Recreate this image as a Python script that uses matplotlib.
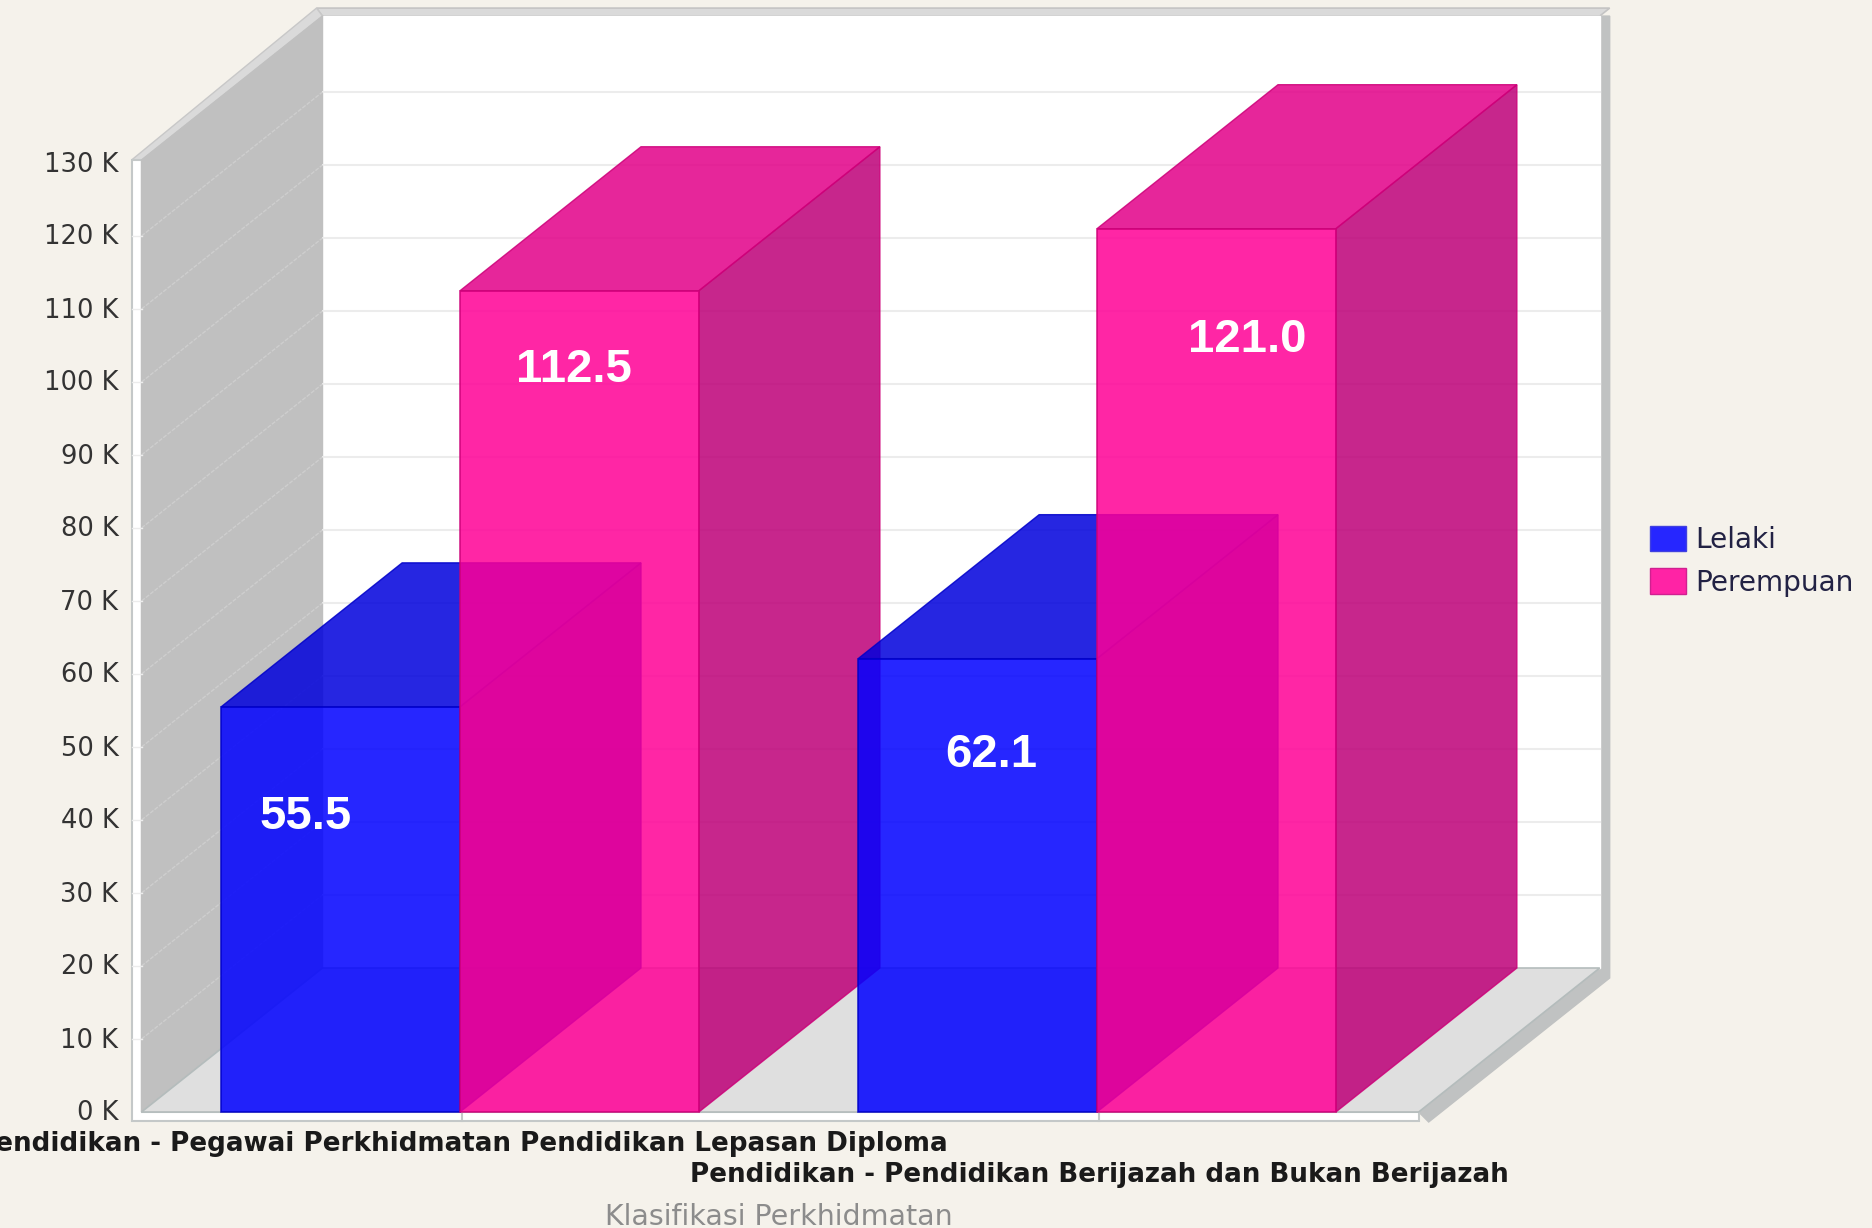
import matplotlib
matplotlib.use('Agg')
import matplotlib.pyplot as plt
from matplotlib.patches import Patch

W, H = 1872, 1228
BG = '#f5f2eb'

categories = ['Pendidikan - Pegawai Perkhidmatan Pendidikan Lepasan Diploma',
              'Pendidikan - Pendidikan Berijazah dan Bukan Berijazah']
lelaki = [55.5, 62.1]
perempuan = [112.5, 121.0]
yticks = [0, 10, 20, 30, 40, 50, 60, 70, 80, 90, 100, 110, 120, 130]
ylabels = [f'{v} K' for v in yticks]

# pixel scale of the front plane
PX_CAT = 637.0
PX_K = 7.30
X0, Y0 = 460.0, 1112.0
def dx(p): return p / PX_CAT
def dy(p): return p / PX_K

depth_x, depth_y = dx(181), dy(144)
bar_w = 0.375
x_lo, x_hi = -0.5, 1.505
y_top = 130.4

fig = plt.figure(figsize=(W / 100, H / 100), dpi=100, facecolor=BG)
ax = fig.add_axes([0, 0, 1, 1])
ax.set_xlim(-X0 / PX_CAT, (W - X0) / PX_CAT)
ax.set_ylim(-(H - Y0) / PX_K, Y0 / PX_K)
ax.axis('off')

# outer frame bands
ax.fill([x_hi + depth_x, x_hi + depth_x + dx(10), x_hi + depth_x + dx(10), x_hi + dx(10), x_hi, x_hi + depth_x],
        [y_top + depth_y, y_top + depth_y, depth_y - dy(10), -dy(10), 0, 0 + depth_y], color='#c0c2c2', zorder=1)
ax.fill([x_lo + depth_x - dx(6), x_hi + depth_x + dx(10), x_hi + depth_x, x_lo + depth_x],
        [y_top + depth_y + dy(8), y_top + depth_y + dy(8), y_top + depth_y, y_top + depth_y],
        fc='#dadada', ec='#c4c4c4', lw=1.2, zorder=1)
ax.fill([x_lo - dx(10), x_lo + depth_x - dx(6), x_lo + depth_x, x_lo],
        [y_top, y_top + depth_y + dy(8), y_top + depth_y, y_top], fc='#dadada', ec='#c8c8c8', lw=1, zorder=1)
ax.fill([x_lo - dx(10), x_lo, x_lo, x_hi, x_hi, x_lo - dx(10)],
        [y_top, y_top, 0, 0, -dy(9), -dy(9)], fc='white', ec='#c4c8c8', lw=1.5, zorder=1)

# walls and floor
ax.fill([x_lo + depth_x, x_hi + depth_x, x_hi + depth_x, x_lo + depth_x],
        [depth_y, depth_y, y_top + depth_y, y_top + depth_y], color='white', zorder=2)
ax.fill([x_lo, x_lo + depth_x, x_lo + depth_x, x_lo],
        [0, depth_y, y_top + depth_y, y_top], color='#c0c0c0', zorder=2)
ax.fill([x_lo, x_hi, x_hi + depth_x, x_lo + depth_x],
        [0, 0, depth_y, depth_y], fc='#dfdfdf', ec='#b4bcbc', lw=1.2, zorder=2)

for v in yticks[1:-1]:
    ax.plot([x_lo + depth_x, x_hi + depth_x], [v + depth_y, v + depth_y], color='#ececec', lw=1.5, zorder=3)
    ax.plot([x_lo, x_lo + depth_x], [v, v + depth_y], color='#cecece', lw=1, ls=(0, (3, 1)), zorder=3)
    ax.plot([x_lo - dx(10), x_lo], [v, v], color='#ececec', lw=1, zorder=3)

for i in range(len(categories)):
    ax.plot([i + dx(2), i + dx(2)], [0, -dy(9)], color='#c4c8c8', lw=1.5, zorder=3)


def bar3d(left, val, front, side, top, edge, z):
    right = left + bar_w
    ax.fill([right, right + depth_x, right + depth_x, right],
            [0, depth_y, val + depth_y, val], fc=side, ec=edge, lw=1, alpha=0.85, zorder=z)
    ax.fill([left, right, right + depth_x, left + depth_x],
            [val, val, val + depth_y, val + depth_y], fc=top, ec=edge, lw=1, alpha=0.85, zorder=z + 1)
    ax.bar(left, val, bar_w, align='edge', fc=front, ec=edge, lw=1.2, alpha=0.85, zorder=z + 2)


z = 5
for i in range(len(categories)):
    bar3d(i - bar_w, lelaki[i], '#0000ff', '#0000be', '#0000dc', '#0000c8', z)
    z += 3
    bar3d(i, perempuan[i], '#ff0096', '#bd0078', '#e20088', '#cc0078', z)
    z += 3

# value labels, offsets in points from the top centre of each bar
lab_x = [-bar_w / 2, bar_w / 2, 1 - bar_w / 2, 1 + bar_w / 2]
lab_v = [lelaki[0], perempuan[0], lelaki[1], perempuan[1]]
lab_off = [(-25, -79), (-4, -57), (10, -69), (22, -80)]
for xp, v, off in zip(lab_x, lab_v, lab_off):
    ax.annotate(f'{v:.1f}', (xp, v), xytext=off, textcoords='offset points', ha='center', va='center',
                color='white', fontsize=34, fontweight='bold', family='Liberation Sans', zorder=50)

for v, s in zip(yticks, ylabels):
    ax.text(x_lo - dx(23), v - dy(1.5), s, ha='right', va='center', fontsize=18.5, color='#333333',
            family='DejaVu Sans', zorder=50)

for i, s in enumerate(categories):
    ax.text(i + dx(2), -dy(32 + 31 * i), s, ha='center', va='center', fontsize=18.8, fontweight='bold',
            color='#1a1a1a', family='DejaVu Sans', zorder=50)
ax.text(0.5, -dy(105), 'Klasifikasi Perkhidmatan', ha='center', va='center', fontsize=20.5,
        color='#8c8c8c', family='DejaVu Sans', zorder=50)

handles = [Patch(fc='#2626ff', ec='#4040e0', label='Lelaki'),
           Patch(fc='#ff23a5', ec='#d02090', label='Perempuan')]
fig.legend(handles=handles, loc='upper left', bbox_to_anchor=(1650 / W, 1 - 526 / H), frameon=False,
           prop={'family': 'DejaVu Sans', 'size': 20.2}, handlelength=1.28, handleheight=1.02,
           labelspacing=0.5, handletextpad=0.32, borderpad=0, borderaxespad=0, labelcolor='#222244')

fig.savefig('out.png', dpi=100, facecolor=BG)
